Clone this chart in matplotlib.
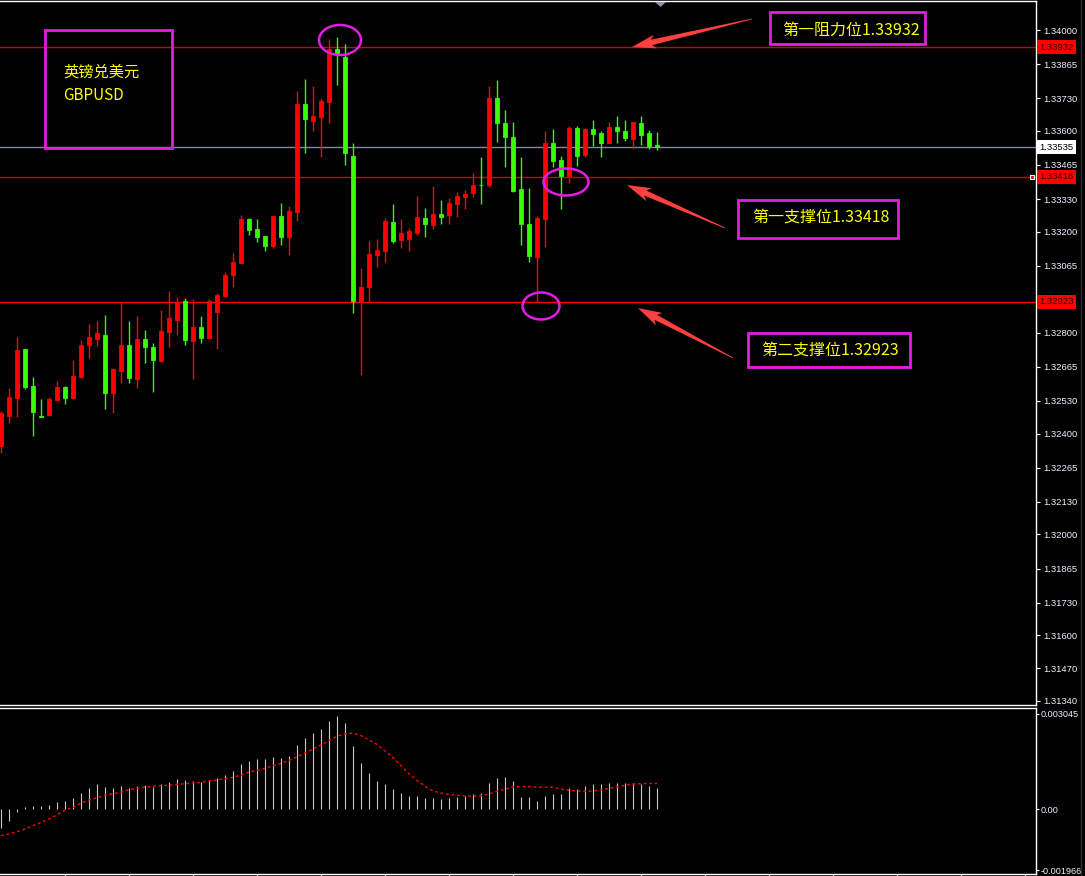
import matplotlib
matplotlib.use("Agg")
import matplotlib.pyplot as plt
from matplotlib.patches import Rectangle, Ellipse, Polygon
import numpy as np

plt.rcParams['font.family'] = ['Liberation Sans', 'DejaVu Sans']

# GBPUSD candles
opens = [1.32349, 1.32471, 1.32542, 1.32736, 1.32590, 1.32471, 1.32475, 1.32534, 1.32586, 1.32542,
         1.32625, 1.32752, 1.32776, 1.32792, 1.32562, 1.32649, 1.32752, 1.32617, 1.32776, 1.32744,
         1.32689, 1.32804, 1.32851, 1.32926, 1.32768, 1.32824, 1.32780, 1.32883, 1.32946, 1.33029,
         1.33077, 1.33251, 1.33212, 1.33184, 1.33144, 1.33263, 1.33180, 1.33279, 1.33707, 1.33639,
         1.33655, 1.33715, 1.33925, 1.33893, 1.33501, 1.32922, 1.32982, 1.33109, 1.33124, 1.33239,
         1.33168, 1.33172, 1.33196, 1.33255, 1.33227, 1.33271, 1.33267, 1.33311, 1.33338, 1.33354,
         1.33386, 1.33386, 1.33730, 1.33631, 1.33576, 1.33370, 1.33231, 1.33101, 1.33251, 1.33552,
         1.33485, 1.33422, 1.33612, 1.33505, 1.33608, 1.33592, 1.33552, 1.33615, 1.33600, 1.33568,
         1.33631, 1.33592, 1.33544]
highs = [1.32491, 1.32582, 1.32784, 1.32736, 1.32625, 1.32538, 1.32546, 1.32609, 1.32590, 1.32692,
         1.32772, 1.32836, 1.32848, 1.32871, 1.32661, 1.32922, 1.32848, 1.32867, 1.32812, 1.32760,
         1.32891, 1.32966, 1.32942, 1.32938, 1.32934, 1.32867, 1.32934, 1.32958, 1.33041, 1.33117,
         1.33267, 1.33255, 1.33251, 1.33184, 1.33263, 1.33315, 1.33303, 1.33758, 1.33806, 1.33778,
         1.33730, 1.33964, 1.33972, 1.33945, 1.33552, 1.33057, 1.33164, 1.33172, 1.33255, 1.33311,
         1.33251, 1.33216, 1.33342, 1.33295, 1.33382, 1.33327, 1.33334, 1.33358, 1.33366, 1.33434,
         1.33497, 1.33778, 1.33802, 1.33683, 1.33635, 1.33497, 1.33374, 1.33263, 1.33600, 1.33608,
         1.33501, 1.33619, 1.33619, 1.33612, 1.33643, 1.33600, 1.33635, 1.33659, 1.33643, 1.33635,
         1.33659, 1.33604, 1.33596]
lows = [1.32325, 1.32443, 1.32467, 1.32578, 1.32392, 1.32467, 1.32471, 1.32530, 1.32518, 1.32538,
        1.32621, 1.32700, 1.32748, 1.32498, 1.32483, 1.32602, 1.32602, 1.32582, 1.32681, 1.32566,
        1.32685, 1.32744, 1.32792, 1.32752, 1.32617, 1.32760, 1.32780, 1.32736, 1.32942, 1.32982,
        1.33077, 1.33188, 1.33160, 1.33124, 1.33136, 1.33148, 1.33109, 1.33243, 1.33513, 1.33600,
        1.33497, 1.33631, 1.33782, 1.33465, 1.32879, 1.32633, 1.32922, 1.33061, 1.33081, 1.33156,
        1.33136, 1.33124, 1.33188, 1.33180, 1.33212, 1.33231, 1.33231, 1.33259, 1.33291, 1.33338,
        1.33311, 1.33378, 1.33556, 1.33457, 1.33358, 1.33148, 1.33081, 1.32922, 1.33140, 1.33457,
        1.33291, 1.33394, 1.33461, 1.33497, 1.33540, 1.33497, 1.33552, 1.33552, 1.33560, 1.33528,
        1.33544, 1.33528, 1.33524]
closes = [1.32483, 1.32546, 1.32732, 1.32586, 1.32487, 1.32467, 1.32538, 1.32586, 1.32542, 1.32629,
          1.32752, 1.32784, 1.32800, 1.32562, 1.32657, 1.32752, 1.32621, 1.32776, 1.32744, 1.32692,
          1.32808, 1.32859, 1.32922, 1.32772, 1.32824, 1.32780, 1.32926, 1.32950, 1.33029, 1.33081,
          1.33251, 1.33208, 1.33180, 1.33144, 1.33263, 1.33180, 1.33283, 1.33707, 1.33647, 1.33659,
          1.33719, 1.33925, 1.33905, 1.33513, 1.32926, 1.32982, 1.33113, 1.33128, 1.33243, 1.33164,
          1.33196, 1.33204, 1.33259, 1.33231, 1.33271, 1.33259, 1.33315, 1.33342, 1.33350, 1.33386,
          1.33385, 1.33730, 1.33631, 1.33576, 1.33362, 1.33231, 1.33105, 1.33255, 1.33552, 1.33481,
          1.33422, 1.33612, 1.33501, 1.33608, 1.33588, 1.33552, 1.33615, 1.33600, 1.33572, 1.33635,
          1.33584, 1.33540, 1.33535]

# MACD panel
macd_hist = [-0.00062, -0.00038, -0.00008, 0.00008, 0.00010, 0.00010, 0.00013, 0.00022, 0.00026, 0.00035,
             0.00051, 0.00067, 0.00080, 0.00071, 0.00067, 0.00074, 0.00067, 0.00074, 0.00077, 0.00071,
             0.00080, 0.00087, 0.00096, 0.00093, 0.00090, 0.00087, 0.00093, 0.00099, 0.00109, 0.00122,
             0.00144, 0.00154, 0.00160, 0.00160, 0.00167, 0.00163, 0.00170, 0.00205, 0.00228, 0.00244,
             0.00256, 0.00282, 0.00298, 0.00276, 0.00202, 0.00147, 0.00115, 0.00090, 0.00080, 0.00064,
             0.00051, 0.00042, 0.00042, 0.00035, 0.00035, 0.00032, 0.00035, 0.00038, 0.00042, 0.00048,
             0.00051, 0.00083, 0.00099, 0.00103, 0.00090, 0.00038, 0.00038, 0.00026, 0.00042, 0.00048,
             0.00048, 0.00067, 0.00064, 0.00074, 0.00080, 0.00080, 0.00083, 0.00083, 0.00083, 0.00083,
             0.00080, 0.00074, 0.00067]
macd_signal = [-0.00085, -0.00080, -0.00073, -0.00064, -0.00053, -0.00043, -0.00032, -0.00019, -0.00003, 0.00005,
               0.00019, 0.00029, 0.00036, 0.00044, 0.00049, 0.00054, 0.00062, 0.00066, 0.00070, 0.00073,
               0.00075, 0.00076, 0.00079, 0.00081, 0.00083, 0.00085, 0.00090, 0.00093, 0.00097, 0.00102,
               0.00109, 0.00118, 0.00124, 0.00130, 0.00139, 0.00146, 0.00156, 0.00167, 0.00180, 0.00192,
               0.00205, 0.00220, 0.00233, 0.00241, 0.00243, 0.00235, 0.00222, 0.00207, 0.00186, 0.00165,
               0.00139, 0.00113, 0.00092, 0.00073, 0.00058, 0.00051, 0.00047, 0.00044, 0.00042, 0.00041,
               0.00043, 0.00048, 0.00057, 0.00064, 0.00071, 0.00072, 0.00072, 0.00070, 0.00070, 0.00070,
               0.00064, 0.00060, 0.00058, 0.00056, 0.00058, 0.00061, 0.00066, 0.00071, 0.00076, 0.00080,
               0.00081, 0.00082, 0.00082]

price_ticks = [1.34000, 1.33865, 1.33730, 1.33600, 1.33465, 1.33330, 1.33200, 1.33065, 1.32800,
               1.32665, 1.32530, 1.32400, 1.32265, 1.32130, 1.32000, 1.31865, 1.31730, 1.31600,
               1.31470, 1.31340]
macd_ticks = [0.003045, 0.0, -0.001966]
macd_tick_labels = ['0.003045', '0.00', '-0.001966']

levels = [1.33932, 1.33418, 1.32923]
level_colors = ['#d00000', '#d00000', '#ff0000']
last_price = 1.33535

pair_text = '英镑兑美元\nGBPUSD'
level_texts = ['第一阻力位1.33932', '第一支撑位1.33418', '第二支撑位1.32923']

W, H = 1085, 876
fig = plt.figure(figsize=(W / 100, H / 100), dpi=100, facecolor='black')
ax = fig.add_axes([0, 1 - 705 / H, 1036 / W, 704 / H], facecolor='black')
ax2 = fig.add_axes([0, 1 - 874 / H, 1036 / W, 166 / H], facecolor='black')

x = np.arange(len(opens))
o = np.array(opens); c = np.array(closes)
cols = np.where(c >= o, '#ff0000', '#33ff00')

for a in (ax, ax2):
    a.set_xlim(-0.125, -0.125 + 1036 / 8)
    for s in ('top', 'right', 'bottom'):
        a.spines[s].set_color('white')
        a.spines[s].set_linewidth(1)
    a.spines['left'].set_visible(False)
    a.yaxis.tick_right()
    a.tick_params(axis='y', colors='white', labelcolor='#eef2ff', length=3, width=0.8,
                  pad=2, labelsize=6.8, direction='out')

# price panel
ax.set_ylim(1.31324, 1.34115)
ax.vlines(x, lows, highs, colors=cols, lw=1, zorder=3)
ax.bar(x, np.abs(c - o), bottom=np.minimum(o, c), width=0.6, color=cols,
       edgecolor=cols, linewidth=0.6, zorder=4)
for lv, lc in zip(levels, level_colors):
    ax.axhline(lv, color=lc, lw=1, zorder=2)
ax.axhline(last_price, color='#7d8ca3', lw=1, zorder=2)
ax.set_yticks(price_ticks)
ax.set_yticklabels(['%.5f' % t for t in price_ticks])
ax.set_xticks([])
yt = ax.get_yaxis_transform()
for lv in levels:
    ax.text(1.0035, lv, '%.5f' % lv, transform=yt, va='center', ha='left', fontsize=6.8,
            color='#300000', clip_on=False,
            bbox=dict(facecolor='#ff0000', edgecolor='none', boxstyle='square,pad=0.25'))
ax.text(1.0035, last_price, '%.5f' % last_price, transform=yt, va='center', ha='left',
        fontsize=6.8, color='black', clip_on=False,
        bbox=dict(facecolor='white', edgecolor='none', boxstyle='square,pad=0.25'))

# MACD panel
ax2.set_ylim(-0.002083, 0.003237)
ax2.vlines(x, 0, macd_hist, colors='#c8c8c8', lw=0.8)
ax2.plot(x, macd_signal, color='#ff0000', lw=1.0, linestyle=(0, (2, 2)))
ax2.set_yticks(macd_ticks)
ax2.set_yticklabels(macd_tick_labels)
ax2.tick_params(axis='y', length=2, pad=1, labelsize=6.6)
ax2.set_xticks(np.arange(8, 130, 8))
ax2.tick_params(axis='x', colors='white', length=2, labelbottom=False)

# annotations in pixel space
ov = fig.add_axes([0, 0, 1, 1], facecolor='none')
ov.set_xlim(0, W); ov.set_ylim(H, 0); ov.axis('off')
mag = '#e31de3'
cjk = ['Noto Sans CJK SC', 'DejaVu Sans']


def arrow(tail, tip, head_len=20, head_w=7, shaft_w=2.8):
    T = np.array(tail, float); P = np.array(tip, float)
    u = (P - T) / np.hypot(*(P - T)); n = np.array([-u[1], u[0]])
    B = P - u * head_len
    pts = [T + n * 0.4, B + n * shaft_w, B - u * 4 + n * head_w, P,
           B - u * 4 - n * head_w, B - n * shaft_w, T - n * 0.4]
    ov.add_patch(Polygon(pts, closed=True, facecolor='#ff4040', edgecolor='none'))


ov.add_patch(Rectangle((45, 30), 127, 118, fill=False, edgecolor=mag, lw=2))
ov.text(63, 84, pair_text, family=cjk, fontsize=11, color='#ffff00', va='center',
        ha='left', linespacing=1.5)

boxes = [(770, 12, 155, 32, 851, 30), (738, 200, 160, 38, 821, 217), (748, 333, 162, 34, 830, 350)]
for (bx, by, bw, bh, tx, ty), t in zip(boxes, level_texts):
    ov.add_patch(Rectangle((bx, by), bw, bh, fill=False, edgecolor=mag, lw=2))
    ov.text(tx, ty, t, family=cjk, fontsize=11.5, color='#ffff00', ha='center', va='center')

arrow((752, 19), (632, 47))
arrow((725, 228), (627, 185))
arrow((733, 358), (638, 308))

for cx, cy, ew, eh in [(340, 40, 42, 30), (566, 182, 45, 27), (541, 306, 37, 27)]:
    ov.add_patch(Ellipse((cx, cy), ew, eh, fill=False, edgecolor=mag, lw=1.8))

ov.add_patch(Polygon([(655, 2), (666, 2), (660.5, 7)], closed=True, facecolor='#8c96a8',
                     edgecolor='none'))
ov.add_patch(Rectangle((1030, 175), 4, 4, facecolor='#ff0000', edgecolor='white', lw=0.8))
ov.plot([1081, 1081], [0, H], color='#303030', lw=1)

fig.savefig('out.png', dpi=100, facecolor='black')
